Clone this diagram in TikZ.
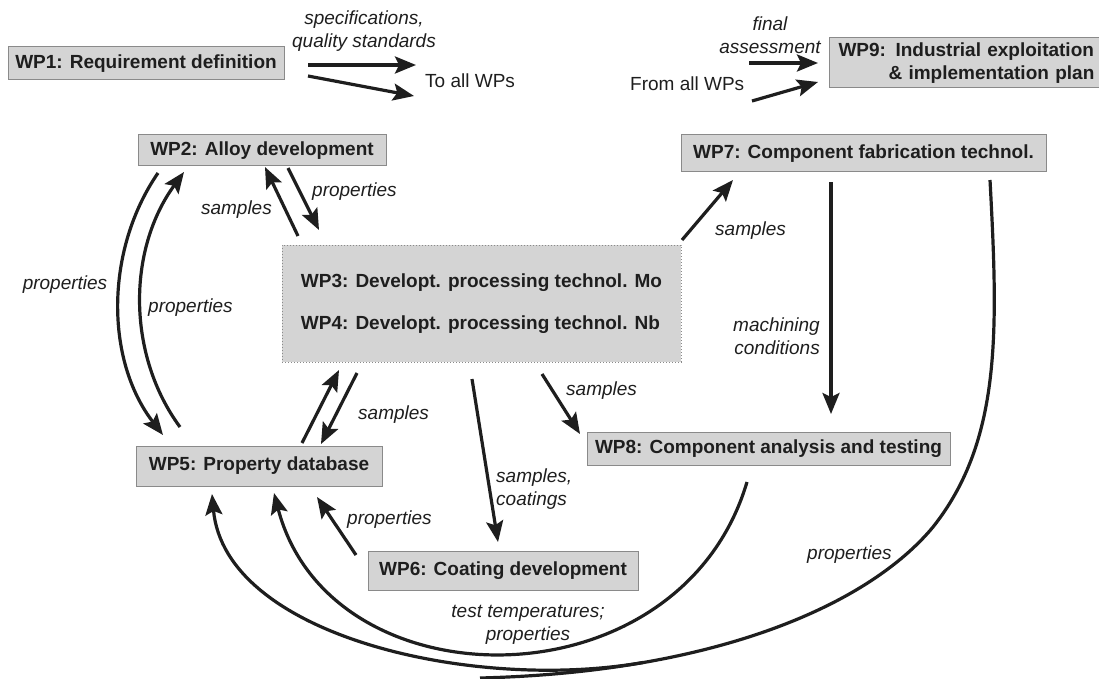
\documentclass[tikz,border=0pt]{standalone}
\usepackage{fontspec}
\setmainfont{Liberation Sans}
\usetikzlibrary{arrows.meta}
\definecolor{boxgray}{HTML}{D4D4D4}
\definecolor{edgegray}{HTML}{8A8A8A}
\definecolor{ink}{HTML}{1E1E1E}
\begin{document}
\begin{tikzpicture}[x=1pt,y=-1pt,
  every node/.style={font=\fontsize{19}{22.5}\selectfont, text=ink, inner sep=0pt},
  wpbox/.style={draw=edgegray, line width=1pt, fill=boxgray, font=\fontsize{19}{22.5}\selectfont\bfseries},
  lbl/.style={font=\fontsize{19}{22.5}\selectfont\itshape},
  plain/.style={font=\fontsize{19}{22.5}\selectfont},
  flow/.style={draw=ink, line width=3.2pt, -{Stealth[length=21pt,width=17pt,inset=4pt]}},
  curveline/.style={draw=ink, line width=3.2pt}]
\useasboundingbox (0,0) rectangle (1099,679);

% boxes
\node[wpbox, minimum width=276pt, minimum height=33pt] (wp1) at (146,63.5) {WP1: Requirement definition};
\node[wpbox, anchor=west, text width=268pt, align=left, inner xsep=9pt, minimum height=50pt] (wp9) at (829,63) {WP9: Industrial exploitation\\\hspace*{50pt}\& implementation plan};
\node[wpbox, minimum width=248pt, minimum height=31pt] (wp2) at (262,150.5) {WP2: Alloy development};
\node[wpbox, minimum width=365pt, minimum height=37pt] (wp7) at (863.5,153.5) {WP7: Component fabrication technol.};
\node[wpbox, draw=edgegray, dotted, line width=0.8pt, minimum width=399pt, minimum height=117pt, align=left] (wp3) at (481.5,303.5) {WP3: Developt. processing technol. Mo\\[20pt]WP4: Developt. processing technol. Nb};
\node[wpbox, minimum width=246pt, minimum height=40pt] (wp5) at (259,466) {WP5: Property database};
\node[wpbox, minimum width=270pt, minimum height=39pt] (wp6) at (503,570.5) {WP6: Coating development};
\node[wpbox, minimum width=363pt, minimum height=33pt] (wp8) at (768.5,448.5) {WP8: Component analysis and testing};

% free ends
\coordinate (r1a) at (308,65);  \coordinate (r1b) at (416,65);
\coordinate (r2a) at (308,76);  \coordinate (r2b) at (414,96);
\coordinate (f1a) at (749,63);  \coordinate (f1b) at (818,63);
\coordinate (f2a) at (752,101); \coordinate (f2b) at (818,82);

\draw[flow] (r1a) -- (r1b);
\draw[flow] (r2a) -- (r2b);
\draw[flow] (f1a) -- (f1b);
\draw[flow] (f2a) -- (f2b);

% connectors between work packages
\coordinate (a32s) at (298,236); \coordinate (a32e) at (265,167);
\coordinate (a23s) at (288,168); \coordinate (a23e) at (319,230);
\draw[flow] (a32s) -- (a32e);
\draw[flow] (a23s) -- (a23e);

\coordinate (a25s) at (158,173); \coordinate (a25e) at (163,435);
\coordinate (a52s) at (180,427); \coordinate (a52e) at (184,172);
\draw[flow] (a25s) .. controls (105,250) and (105,360) .. (a25e);
\draw[flow] (a52s) .. controls (127,355) and (127,250) .. (a52e);

\coordinate (a53s) at (302,443); \coordinate (a53e) at (339,370);
\coordinate (a35s) at (357,373); \coordinate (a35e) at (321,444);
\draw[flow] (a53s) -- (a53e);
\draw[flow] (a35s) -- (a35e);

\coordinate (a36s) at (472,379); \coordinate (a36e) at (498,542);
\draw[flow] (a36s) -- (a36e);
\coordinate (a38s) at (542,374); \coordinate (a38e) at (580,434);
\draw[flow] (a38s) -- (a38e);
\coordinate (a65s) at (356,555); \coordinate (a65e) at (317,497);
\draw[flow] (a65s) -- (a65e);
\coordinate (a37s) at (682,240); \coordinate (a37e) at (733,180);
\draw[flow] (a37s) -- (a37e);
\coordinate (a78s) at (831,182); \coordinate (a78e) at (831,414);
\draw[flow] (a78s) -- (a78e);

\coordinate (a85s) at (747,482); \coordinate (a85e) at (274,493);
\draw[flow] (a85s) .. controls (680,708) and (330,708) .. (a85e);

\coordinate (a75s) at (990,180); \coordinate (a75m) at (933,527);
\coordinate (a75j) at (480,678); \coordinate (a75k) at (643,662.5);
\coordinate (a75e) at (212,494);
\draw[curveline] (a75s) .. controls (998,330) and (1002,440) .. (a75m) .. controls (870,603) and (720,672) .. (a75j);
\draw[flow] (a75k) .. controls (473,692) and (225,636) .. (a75e);

% labels
\node[lbl, align=center] (l1) at (364,31) {specifications,\\quality standards};
\node[plain, anchor=west] (l2) at (425,81) {To all WPs};
\node[lbl, align=center] (l3) at (770,35) {final\\assessment};
\node[plain, anchor=west] (l4) at (630,84) {From all WPs};
\node[lbl, anchor=east] (l5) at (272,210) {samples};
\node[lbl, anchor=west] (l6) at (312,192) {properties};
\node[lbl] (l7) at (65,285) {properties};
\node[lbl, anchor=west] (l8) at (148,308) {properties};
\node[lbl, anchor=west] (l9) at (715,231) {samples};
\node[lbl, anchor=east, align=right] (l10) at (820,336) {machining\\conditions};
\node[lbl, anchor=west] (l11) at (358,415) {samples};
\node[lbl, anchor=west] (l12) at (566,391) {samples};
\node[lbl, anchor=west, align=left] (l13) at (496,489) {samples,\\coatings};
\node[lbl, anchor=west] (l14) at (347,520) {properties};
\node[lbl, align=center] (l15) at (528,625) {test temperatures;\\properties};
\node[lbl, anchor=west] (l16) at (807,555) {properties};
\end{tikzpicture}
\end{document}
